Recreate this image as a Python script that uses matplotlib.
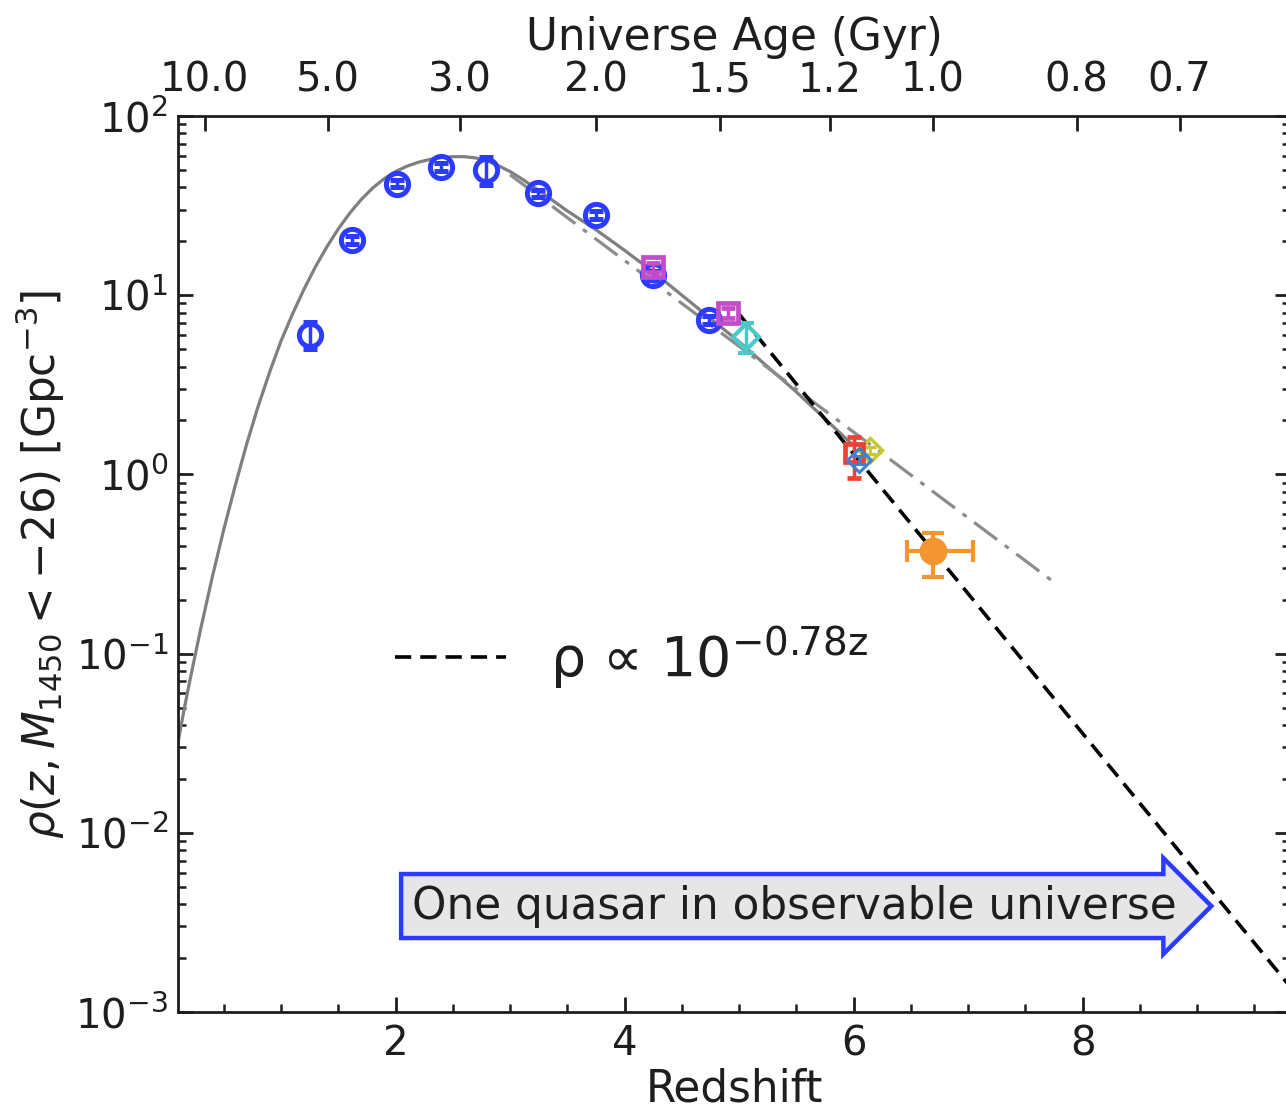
import numpy as np
import matplotlib
matplotlib.use('Agg')
import matplotlib.pyplot as plt
from matplotlib.ticker import MultipleLocator, LogLocator, NullFormatter, NullLocator


# low-z survey densities (open blue circles)
z_blue = [1.25, 1.62, 2.01, 2.40, 2.79, 3.24, 3.75, 4.25, 4.74]
rho_blue = [6.0, 20.3, 42.0, 52.0, 50.0, 37.0, 28.0, 12.9, 7.3]
rho_blue_lo = [1.0, 1.0, 2.0, 2.5, 8.7, 1.8, 1.4, 0.7, 0.4]
rho_blue_hi = [1.1, 1.0, 2.0, 2.5, 9.3, 1.8, 1.4, 0.7, 0.4]

# z~4-5 squares
z_mag = [4.25, 4.90]
rho_mag = [14.3, 8.0]
rho_mag_err = [0.8, 0.5]

z_cyan = [5.06]
rho_cyan = [5.85]
rho_cyan_lo = [1.1]
rho_cyan_hi = [1.13]

# z~6 samples
z_yel = [6.14]
rho_yel = [1.36]
z_sblue = [6.05]
rho_sblue = [1.2]
z_red = [6.0]
rho_red = [1.31]
rho_red_lo = [0.35]
rho_red_hi = [0.30]

# z~6.7 bin
z_org = [6.69]
z_org_lo = [0.22]
z_org_hi = [0.35]
rho_org = [0.376]
rho_org_lo = [0.11]
rho_org_hi = [0.092]

# model curve over the full range (log10 rho)
z_model = [0.096, 0.15, 0.2, 0.3, 0.4, 0.5, 0.6, 0.7, 0.8, 0.9, 1.0, 1.1,
           1.2, 1.3, 1.4, 1.5, 1.6, 1.7, 1.8, 1.9, 2.0, 2.1, 2.2, 2.3, 2.4,
           2.5, 2.6, 2.7, 2.8, 2.9, 3.0, 3.1, 3.25, 3.5, 3.75, 4.0, 4.25,
           4.5, 4.75, 5.0, 5.25, 5.5, 5.75, 6.0]
logrho_model = [-1.51, -1.324, -1.162, -0.857, -0.572, -0.307, -0.062, 0.17,
                0.38, 0.57, 0.745, 0.895, 1.033, 1.158, 1.27, 1.37, 1.458,
                1.534, 1.598, 1.65, 1.69, 1.72, 1.742, 1.758, 1.768, 1.773,
                1.773, 1.766, 1.75, 1.722, 1.69, 1.65, 1.585, 1.47, 1.365,
                1.25, 1.13, 1.0, 0.87, 0.74, 0.6, 0.46, 0.31, 0.16]

# exponential fit at z>3 (dash-dot)
z_fit = [3.0, 7.75]
rho_fit = [47.0, 0.25]

# rho ~ 10^(-0.78 z), normalised at z = 6
slope = 0.78
rho_z6 = 1.3
z_steep = [5.0, 9.9]

# top axis: universe age
age_labels = ['10.0', '5.0', '3.0', '2.0', '1.5', '1.2', '1.0', '0.8', '0.7']
age_z = [0.332, 1.406, 2.559, 3.747, 4.830, 5.790, 6.690, 7.948, 8.847]

fs = 29
fl = 31.5
ink = '#1e1e1e'
plt.rcParams['font.family'] = 'DejaVu Sans'
plt.rcParams['mathtext.fontset'] = 'dejavusans'

fig = plt.figure(figsize=(12.86, 11.09), dpi=100)
ax = fig.add_axes([0.1384, 0.0875, 0.8647, 0.8079])

ax.plot(z_model, 10 ** np.array(logrho_model), color='#7f7f7f', lw=2.3, zorder=2)
ax.plot(z_fit, rho_fit, color='#8c8c8c', lw=2.3, ls='-.', dashes=(9, 3, 1.5, 3), zorder=2)
zs = np.array(z_steep)
steep, = ax.plot(zs, rho_z6 * 10 ** (-slope * (zs - 6)), color='black', lw=2.6,
                 ls='--', dashes=(4.5, 2.5), zorder=3,
                 label=r'ρ ∝ 10$^{\mathrm{-0.78z}}$')

ax.errorbar(z_blue, rho_blue, yerr=[rho_blue_lo, rho_blue_hi], fmt='o', ms=16,
            mfc='none', mec='#2b3bff', mew=3.6, ecolor='#2b3bff', elinewidth=2.5,
            capsize=5, capthick=2.5, zorder=4)
ax.errorbar(z_mag, rho_mag, yerr=rho_mag_err, fmt='s', ms=14, mfc='none',
            mec='#c44cc8', mew=3.4, ecolor='#c44cc8', elinewidth=2.5,
            capsize=5, capthick=2.5, zorder=5)
ax.errorbar(z_cyan, rho_cyan, yerr=[rho_cyan_lo, rho_cyan_hi], fmt='D', ms=13,
            mfc='none', mec='#4cc8c8', mew=3, ecolor='#4cc8c8', elinewidth=2.5,
            capsize=6, capthick=2.5, zorder=5)
ax.errorbar(z_yel, rho_yel, yerr=0.06, fmt='D', ms=12, mfc='none',
            mec='#c8c832', mew=2.5, ecolor='#c8c832', elinewidth=2,
            capsize=4, zorder=4)
ax.errorbar(z_red, rho_red, yerr=[rho_red_lo, rho_red_hi], fmt='s', ms=13,
            mfc='none', mec='#ee4033', mew=3.4, ecolor='#ee4033', elinewidth=2.5,
            capsize=5, capthick=2.5, zorder=5)
ax.errorbar(z_sblue, rho_sblue, yerr=0.06, fmt='D', ms=12, mfc='none',
            mec='#3b82cc', mew=2.2, ecolor='#3b82cc', elinewidth=2,
            capsize=4, zorder=6)
ax.errorbar(z_org, rho_org, xerr=[z_org_lo, z_org_hi],
            yerr=[rho_org_lo, rho_org_hi], fmt='o', ms=19, color='#f39530',
            mec='#f39530', elinewidth=3, capsize=8, capthick=3, zorder=6)

ax.set_yscale('log')
ax.set_xlim(0.1, 9.81)
ax.set_ylim(1e-3, 1e2)

ax.xaxis.set_major_locator(MultipleLocator(2))
ax.xaxis.set_minor_locator(MultipleLocator(0.5))
ax.yaxis.set_major_locator(LogLocator(base=10, numticks=10))
ax.yaxis.set_minor_locator(LogLocator(base=10, subs=np.arange(2, 10), numticks=20))
ax.yaxis.set_minor_formatter(NullFormatter())

ax.tick_params(which='both', direction='in', bottom=True, top=False,
               left=True, right=True, colors=ink, labelcolor=ink, labelsize=fs)
ax.tick_params(which='major', length=11, width=2)
ax.tick_params(which='minor', length=6, width=1.8)
ax.tick_params(axis='x', pad=9)
ax.tick_params(axis='y', pad=7)
for sp in ax.spines.values():
    sp.set_linewidth(2)
    sp.set_color(ink)

ax.set_xlabel('Redshift', fontsize=fl, color=ink, labelpad=2)
ax.set_ylabel(r'$\rho(z, M_{1450} < -26)$ [Gpc$^{-3}$]', fontsize=fl,
              color=ink, labelpad=6)

# universe age along the top
top = ax.twiny()
top.set_xlim(ax.get_xlim())
top.set_xticks(age_z)
top.set_xticklabels(age_labels)
top.xaxis.set_minor_locator(NullLocator())
top.tick_params(axis='x', which='major', direction='in', length=11, width=2,
                colors=ink, labelcolor=ink, labelsize=fs, pad=11)
top.set_xlabel('Universe Age (Gyr)', fontsize=fl, color=ink, labelpad=8)
for sp in top.spines.values():
    sp.set_visible(False)

leg = ax.legend(handles=[steep], loc='center left', bbox_to_anchor=(0.195, 0.395),
                frameon=False, fontsize=40, handlelength=2.0, handletextpad=0.8,
                borderpad=0, borderaxespad=0)
for t in leg.get_texts():
    t.set_color(ink)

ax.text(2.14, 0.0039, 'One quasar in observable universe', fontsize=31.5,
        color=ink, ha='left', va='center', zorder=7,
        bbox=dict(boxstyle='rarrow,pad=0.24', fc='#e6e6e6', ec='#2b3bff', lw=3.2))

fig.savefig('out.png', dpi=100)
